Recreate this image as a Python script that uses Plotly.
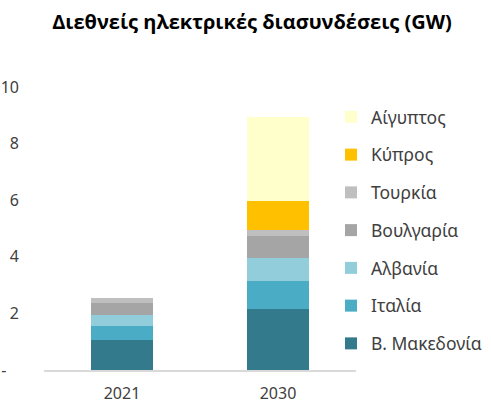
import plotly.graph_objects as go

years = ["2021", "2030"]
series_names = ["Β. Μακεδονία", "Ιταλία", "Αλβανία", "Βουλγαρία", "Τουρκία", "Κύπρος", "Αίγυπτος"]
n_macedonia = [1.05, 2.15]
italy = [0.50, 1.00]
albania = [0.40, 0.80]
bulgaria = [0.42, 0.80]
turkey = [0.18, 0.19]
cyprus = [0.0, 1.02]
egypt = [0.0, 2.98]
colors = ["#327A8C", "#4BACC6", "#92CDDC", "#A5A5A5", "#BFBFBF", "#FFC000", "#FFFFCC"]

y_tickvals = [0, 2, 4, 6, 8, 10]
y_ticktext = ["-\u00a0\u00a0\u00a0", "2", "4", "6", "8", "10"]

values = [n_macedonia, italy, albania, bulgaria, turkey, cyprus, egypt]

fig = go.Figure()
n = len(series_names)
for i, (name, vals, col) in enumerate(zip(series_names, values, colors)):
    fig.add_trace(go.Bar(x=years, y=vals, name=name, marker=dict(color=col, line=dict(width=0)),
                         legendgroup=name, legendrank=n - i))

font_family = "Noto Sans, Open Sans, sans-serif"
fig.update_layout(
    barmode="stack",
    bargap=0.6,
    width=491, height=405,
    margin=dict(l=44, r=135, t=87, b=35, autoexpand=False),
    paper_bgcolor="white", plot_bgcolor="white",
    font=dict(family=font_family, size=16, color="#404040"),
    title=dict(text="<b>Διεθνείς ηλεκτρικές διασυνδέσεις (GW)</b>", x=252 / 491, xanchor="center",
               y=1 - 22 / 405, yref="container", yanchor="middle",
               font=dict(size=20, color="#000000", family="Open Sans, sans-serif")),
    showlegend=True,
    legend=dict(x=1 - 25 / 312, xanchor="left", y=1 - (117 - 87 - 18) / 283,
                yanchor="top", tracegroupgap=12, font=dict(size=17.5, color="#404040"),
                bgcolor="rgba(0,0,0,0)", itemwidth=30),
    xaxis=dict(showline=True, linecolor="#D9D9D9", linewidth=2, ticks="", showgrid=False,
               ticklabelstandoff=8, tickfont=dict(size=16), automargin=False),
    yaxis=dict(range=[0, 10], tickvals=y_tickvals, ticktext=y_ticktext, showgrid=False,
               zeroline=False, showline=False, ticks="", ticklabelstandoff=24,
               tickfont=dict(size=16), automargin=False),
)

fig.write_html("out.html")
